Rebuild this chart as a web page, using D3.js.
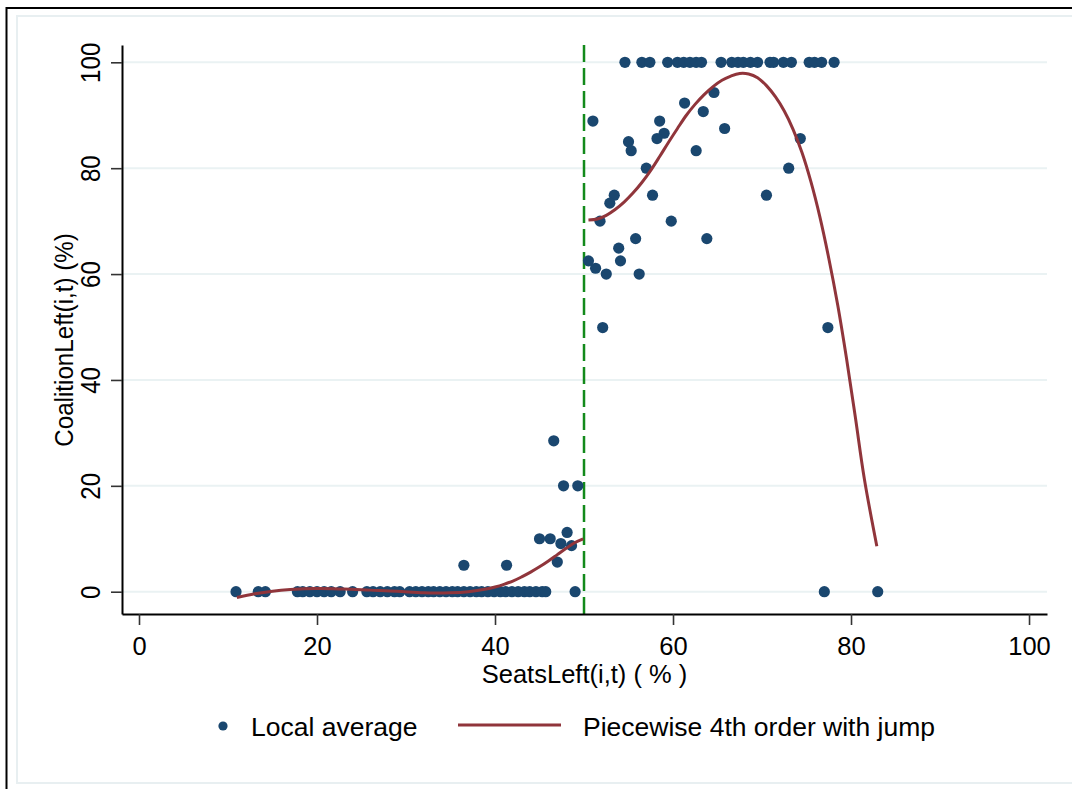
<!DOCTYPE html>
<html>
<head>
<meta charset="utf-8">
<script src="https://cdn.jsdelivr.net/npm/d3@7"></script>
<style>
  html, body { margin: 0; padding: 0; background: #ffffff; }
  svg { display: block; }
  text { font-family: "Liberation Sans", Arial, Helvetica, sans-serif; fill: #000; }
</style>
</head>
<body>
<svg id="chart" width="1072" height="789"></svg>
<script>
// ---------------- data ----------------
const xTicks = [0, 20, 40, 60, 80, 100];
const yTicks = [0, 20, 40, 60, 80, 100];
const cutoff = 50;

// Local averages (SeatsLeft %, CoalitionLeft %)
const avgX = [
  10.9, 13.4, 14.2, 17.8, 18.4, 19.2, 20.0, 20.8, 21.6, 22.6, 24.0, 25.6, 26.3, 27.1, 27.9,
  28.7, 29.3, 30.4, 31.1, 31.8, 32.5, 33.1, 33.8, 34.5, 35.2, 35.8, 36.5, 37.2, 37.9, 38.5,
  39.2, 39.9, 40.6, 41.2, 41.9, 42.6, 43.3, 43.9, 44.6, 45.3, 45.7, 49.0,
  77.0, 83.0,
  46.6, 47.7, 49.3, 45.0, 46.2, 48.1, 47.4, 48.6, 47.0, 36.5, 41.3,
  54.6, 56.5, 57.4, 59.4, 60.5, 61.2, 61.9, 62.6, 63.2, 65.4, 66.6, 67.3, 67.9, 68.7, 69.5,
  70.9, 71.3, 72.4, 73.3, 75.3, 75.9, 76.7, 78.1,
  51.0, 61.3, 64.6, 58.5, 63.4, 55.0, 55.3, 59.0, 58.2, 62.6, 65.8, 74.3, 57.0, 73.0,
  53.4, 57.7, 70.5, 52.9, 51.8, 59.8, 55.8, 63.8, 53.9, 50.5, 54.1, 51.3, 52.5, 56.2, 52.1, 77.4
];
const avgY = [
  0, 0, 0, 0, 0, 0, 0, 0, 0, 0, 0, 0, 0, 0, 0,
  0, 0, 0, 0, 0, 0, 0, 0, 0, 0, 0, 0, 0, 0, 0,
  0, 0, 0, 0, 0, 0, 0, 0, 0, 0, 0, 0,
  0, 0,
  28.5, 20.0, 20.0, 10.0, 10.0, 11.2, 9.1, 8.7, 5.6, 5.0, 5.0,
  100, 100, 100, 100, 100, 100, 100, 100, 100, 100, 100, 100, 100, 100, 100,
  100, 100, 100, 100, 100, 100, 100, 100,
  88.9, 92.3, 94.3, 88.9, 90.7, 85.0, 83.3, 86.6, 85.6, 83.3, 87.5, 85.6, 80.0, 80.0,
  74.9, 74.9, 74.9, 73.4, 70.0, 70.0, 66.7, 66.7, 64.9, 62.5, 62.5, 61.1, 60.0, 60.0, 49.9, 49.9
];

// Piecewise 4th-order fit
const fitLeftX = [11.0, 13, 15, 17, 20, 23, 26, 29, 32, 35, 37, 39, 40, 41, 42, 43, 44, 45, 46, 47, 48, 49, 49.9];
const fitLeftY = [-1.1, -0.4, 0.1, 0.4, 0.6, 0.5, 0.3, 0.1, -0.2, -0.2, 0.0, 0.5, 0.9, 1.4, 2.0, 2.8, 3.7, 4.7, 5.8, 7.0, 8.2, 9.3, 10.0];
const fitRightX = [50.5, 51.5, 52.5, 53.5, 54.5, 55.5, 56.5, 57.5, 58.5, 59.5, 60.5, 61.5, 62.5, 63.5, 64.5, 65.5,
  66.5, 67.5, 68.5, 69.5, 70.5, 71.5, 72.5, 73.5, 74.5, 75.5, 76.5, 77.5, 78.5, 79.5, 80.5, 81.5, 82.9];
const fitRightY = [70.2, 70.4, 71.1, 72.2, 73.6, 75.3, 77.3, 79.6, 82.2, 84.9, 87.5, 90.0, 92.1, 93.9, 95.4, 96.6,
  97.4, 97.9, 97.8, 97.1, 95.6, 93.5, 90.8, 87.3, 82.9, 77.4, 70.8, 63.0, 54.2, 44.0, 32.8, 21.3, 8.6];

const xTitle = "SeatsLeft(i,t) ( % )";
const yTitle = "CoalitionLeft(i,t) (%)";
const legendLabels = ["Local average", "Piecewise 4th order with jump"];

// ---------------- drawing ----------------
const navy = "#1a476f";
const cranberry = "#90353b";
const grid = "#eaf2f3";
const FONT = '"Liberation Sans", Arial, sans-serif';

const svg = d3.select("#chart");

// outer frames
svg.append("rect").attr("x", 6.5).attr("y", 8).attr("width", 1200).attr("height", 900)
  .attr("fill", "#fff").attr("stroke", "#000").attr("stroke-width", 2);
svg.append("rect").attr("x", 17).attr("y", 16).attr("width", 1200).attr("height", 767)
  .attr("fill", "#fff").attr("stroke", "#e8eff1").attr("stroke-width", 2);

const x = d3.scaleLinear().domain([-1.91, 102.02]).range([122, 1047]);
const y = d3.scaleLinear().domain([-4.21, 103.27]).range([614, 45]);

// gridlines
svg.append("g").selectAll("line").data(yTicks).join("line")
  .attr("x1", x.range()[0]).attr("x2", x.range()[1])
  .attr("y1", d => y(d)).attr("y2", d => y(d))
  .attr("stroke", grid).attr("stroke-width", 2);

// cutoff line
svg.append("line")
  .attr("x1", x(cutoff)).attr("x2", x(cutoff))
  .attr("y1", y.range()[1]).attr("y2", y.range()[0])
  .attr("stroke", "#138a1b").attr("stroke-width", 2.5)
  .attr("stroke-dasharray", "17,6");

// axes
const xAxis = svg.append("g").attr("transform", `translate(0,${y.range()[0]})`)
  .call(d3.axisBottom(x).tickValues(xTicks).tickSizeInner(11).tickSizeOuter(0));
xAxis.select(".domain").attr("stroke", "#000").attr("stroke-width", 2);
xAxis.selectAll(".tick line").attr("stroke", "#333").attr("stroke-width", 1.6);
xAxis.selectAll(".tick text")
  .attr("y", 40.5).attr("dy", null)
  .style("font-size", "25.5px").style("font-family", FONT).attr("fill", "#000");

const yAxis = svg.append("g").attr("transform", `translate(${x.range()[0]},0)`)
  .call(d3.axisLeft(y).tickValues(yTicks).tickSizeInner(11).tickSizeOuter(0));
yAxis.select(".domain").attr("stroke", "#000").attr("stroke-width", 2);
yAxis.selectAll(".tick line").attr("stroke", "#333").attr("stroke-width", 1.6);
yAxis.selectAll(".tick text")
  .attr("x", null).attr("dy", null)
  .attr("text-anchor", "middle")
  .attr("transform", "translate(-22,0) rotate(-90) scale(0.86,1)")
  .style("font-size", "28px").style("font-family", FONT).attr("fill", "#000");

// axis titles
svg.append("text").attr("x", (x.range()[0] + x.range()[1]) / 2).attr("y", 683)
  .attr("text-anchor", "middle").style("font-size", "25.5px").text(xTitle);
svg.append("text")
  .attr("transform", "translate(73,340) rotate(-90) scale(0.93,1)")
  .attr("text-anchor", "middle").style("font-size", "26px").text(yTitle);

// points
const pts = avgX.map((v, i) => [v, avgY[i]]);
svg.append("g").selectAll("circle").data(pts).join("circle")
  .attr("cx", d => x(d[0])).attr("cy", d => y(d[1])).attr("r", 5.6)
  .attr("fill", navy);

// fit lines (on top of points)
const line = d3.line().x(d => x(d[0])).y(d => y(d[1])).curve(d3.curveCatmullRom.alpha(0.5));
const leftPts = fitLeftX.map((v, i) => [v, fitLeftY[i]]);
const rightPts = fitRightX.map((v, i) => [v, fitRightY[i]]);
svg.append("path").datum(leftPts).attr("d", line)
  .attr("fill", "none").attr("stroke", cranberry).attr("stroke-width", 3);
svg.append("path").datum(rightPts).attr("d", line)
  .attr("fill", "none").attr("stroke", cranberry).attr("stroke-width", 3);

// legend
const lg = svg.append("g");
lg.append("circle").attr("cx", 223).attr("cy", 726).attr("r", 4.6).attr("fill", navy);
lg.append("text").attr("x", 251).attr("y", 735.5).style("font-size", "26.5px").text(legendLabels[0]);
lg.append("line").attr("x1", 458).attr("x2", 561).attr("y1", 725).attr("y2", 725)
  .attr("stroke", cranberry).attr("stroke-width", 3);
lg.append("text").attr("x", 583).attr("y", 735.5).style("font-size", "26.5px").text(legendLabels[1]);
</script>
</body>
</html>
